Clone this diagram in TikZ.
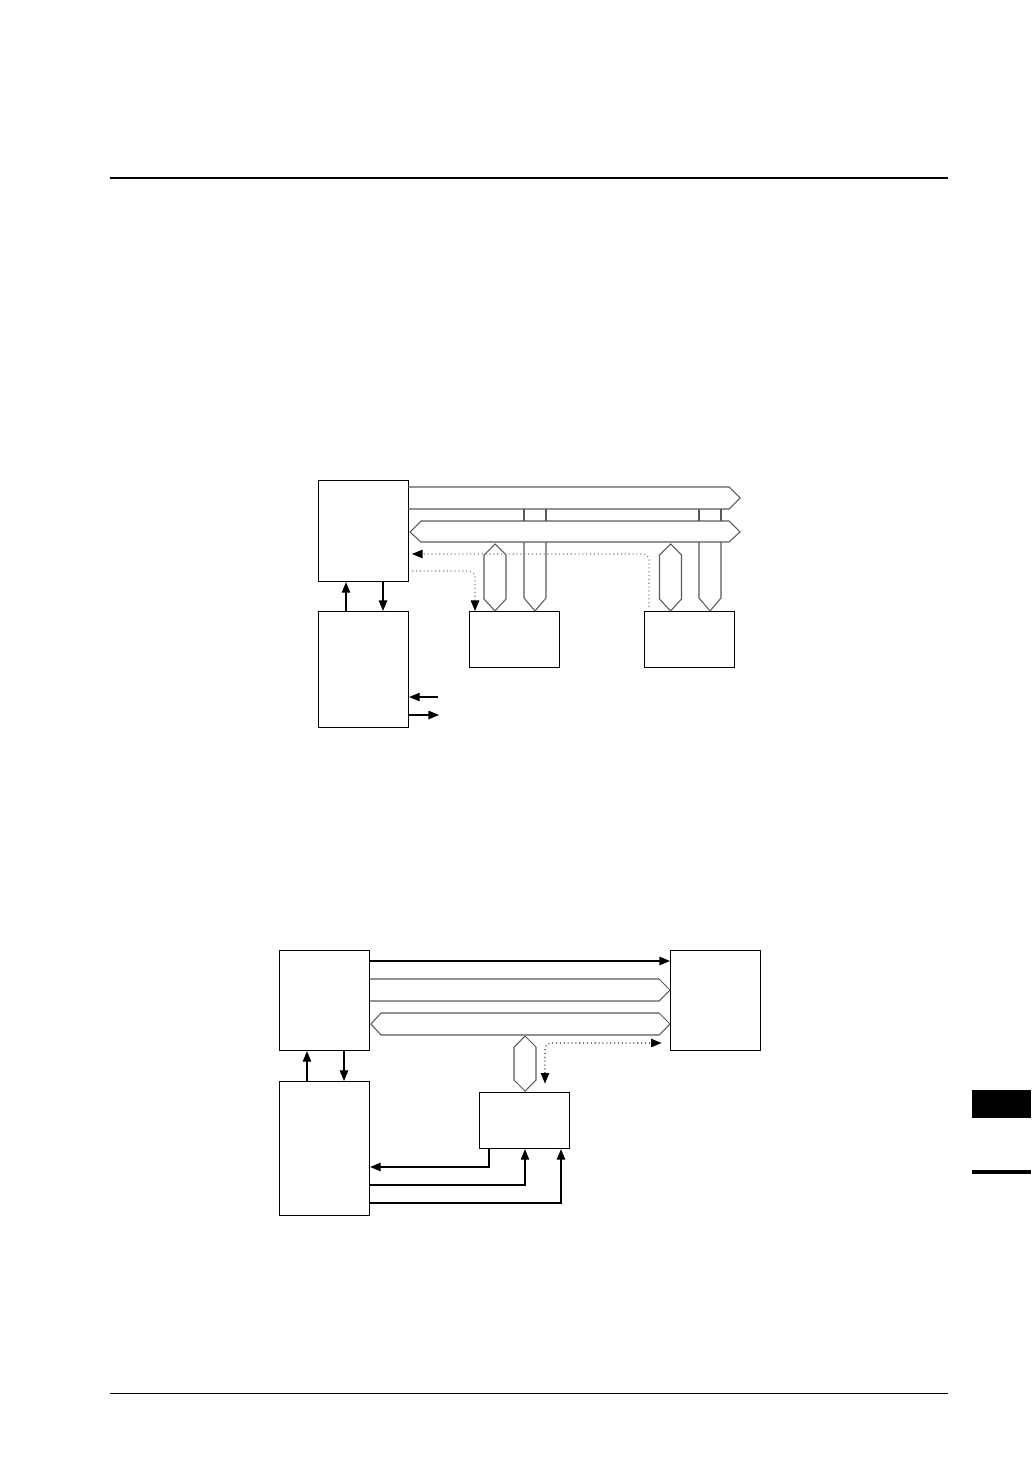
\documentclass[tikz,border=0pt]{standalone}
\usetikzlibrary{arrows.meta}
\begin{document}
\begin{tikzpicture}[x=0.025cm,y=-0.025cm,>={Triangle[length=7.5pt,width=6pt]},
	box/.style={draw,line width=0.8pt,inner sep=0pt,minimum width=2.25cm,anchor=north west},
	bus/.style={draw=black!65,line width=0.75pt},
	sig/.style={line width=0.8pt,->},
	dots/.style={gray,line width=0.75pt,dotted,rounded corners=4pt}]
	\useasboundingbox (0,0) rectangle (1031,1457);
	%	page rules and tab
	\draw[line width=1.2pt] (110,178) -- (948,178);
	\draw[line width=0.6pt] (110,1393) -- (948,1393);
	\fill (972,1090) rectangle (1031,1118);
	\fill (972,1170) rectangle (1031,1174);
	%TOP
	\node[box,minimum height=2.525cm] (cpuA) at (318,480) {};
	\node[box,minimum height=2.9cm] (ioA) at (318,611) {};
	\node[box,minimum height=1.4cm] (devA) at (469,611) {};
	\node[box,minimum height=1.4cm] (devB) at (644,611) {};
	\coordinate (inA) at (438,697);
	\coordinate (outA) at (439,715);
	\draw[bus] (408,487) -- (729,487) -- (740,498) -- (729,509) -- (408,509);
	\draw[bus] (421,521) -- (729,521) -- (740,532) -- (729,542) -- (421,542) -- (410,532) -- cycle;
	\draw[bus] (524,509) -- (524,521) (546,509) -- (546,521);
	\draw[bus] (699,509) -- (699,521) (721,509) -- (721,521);
	\draw[bus] (524,542) -- (524,598) -- (535,611) -- (546,598) -- (546,542);
	\draw[bus] (699,542) -- (699,598) -- (710,611) -- (721,598) -- (721,542);
	\draw[bus] (495,544) -- (506,555) -- (506,599) -- (495,611) -- (484,599) -- (484,555) -- cycle;
	\draw[bus] (670.5,544) -- (681.5,555) -- (681.5,599) -- (670.5,611) -- (659.5,599) -- (659.5,555) -- cycle;
	\draw[sig] (ioA.north -| 346,0) -- (cpuA.south -| 346,0);
	\draw[sig] (cpuA.south -| 383,0) -- (ioA.north -| 383,0);
	\draw[sig] (inA) -- (ioA.east |- inA);
	\draw[sig] (ioA.east |- outA) -- (outA);
	\draw[dots,-{Triangle[length=7.5pt,width=6pt,color=black]}] (412,571) -| (devA.north -| 475,0);
	\draw[dots,-{Triangle[length=7.5pt,width=6pt,color=black]},shorten >=2pt] (649,607) |- (cpuA.east |- 0,554);
	%BOTTOM
	\node[box,minimum height=2.5cm] (cpuB) at (279,950) {};
	\node[box,minimum height=2.5cm] (memB) at (670,950) {};
	\node[box,minimum height=3.35cm] (ioB) at (279,1081) {};
	\node[box,minimum height=1.4cm] (dmaB) at (479,1092) {};
	\draw[sig] (cpuB.east |- 0,961) -- (memB.west |- 0,961);
	\draw[bus] (370,979) -- (659,979) -- (670,990) -- (659,1001) -- (370,1001);
	\draw[bus] (381,1013) -- (659,1013) -- (670,1024) -- (659,1035) -- (381,1035) -- (371,1024) -- cycle;
	\draw[bus] (525,1036) -- (536,1047) -- (536,1080) -- (525,1091) -- (514,1080) -- (514,1047) -- cycle;
	\draw[dots,black!80,{Triangle[length=7.5pt,width=6pt,color=black]}-{Triangle[length=7.5pt,width=6pt,color=black]},shorten <=6pt,shorten >=6pt] (dmaB.north -| 545,0) |- (memB.west |- 0,1043);
	\draw[sig] (ioB.north -| 307,0) -- (cpuB.south -| 307,0);
	\draw[sig] (cpuB.south -| 344,0) -- (ioB.north -| 344,0);
	\draw[sig] (dmaB.south -| 489,0) |- (ioB.east |- 0,1167);
	\draw[sig] (ioB.east |- 0,1185) -| (dmaB.south -| 525,0);
	\draw[sig] (ioB.east |- 0,1203) -| (dmaB.south -| 561,0);
\end{tikzpicture}
\end{document}
